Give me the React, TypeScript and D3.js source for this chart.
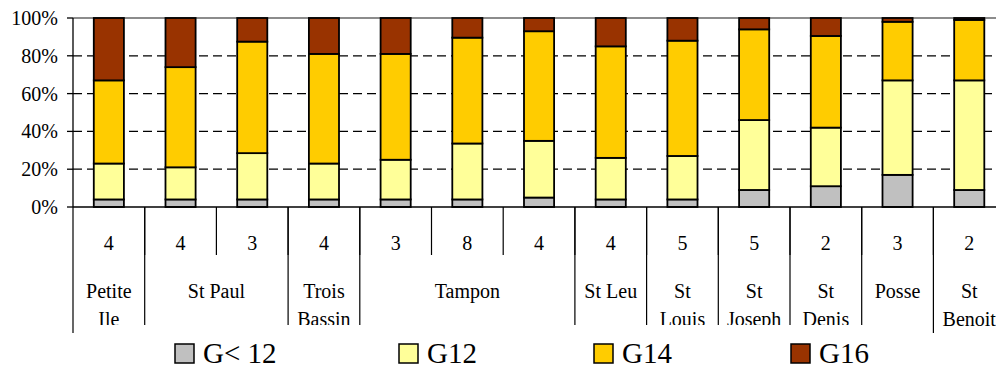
import React from "react";
import * as d3 from "d3";

const counts = ["4", "4", "3", "4", "3", "8", "4", "4", "5", "5", "2", "3", "2"];
const groupNames = [["Petite", "Ile"], ["St Paul"], ["Trois", "Bassin"], ["Tampon"], ["St Leu"], ["St", "Louis"], ["St", "Joseph"], ["St", "Denis"], ["Posse"], ["St", "Benoit"]];
const groupSpans = [1, 2, 1, 3, 1, 1, 1, 1, 1, 1];
const seriesNames = ["G< 12", "G12", "G14", "G16"];
const seriesColors = ["#C0C0C0", "#FFFF99", "#FFCC00", "#993300"];
const gLt12 = [4, 4, 4, 4, 4, 4, 5, 4, 4, 9, 11, 17, 9];
const g12 = [19, 17, 24.5, 19, 21, 29.6, 30, 22, 23, 37, 31, 50, 58];
const g14 = [44, 53, 59, 58, 56, 56, 58, 59, 61, 48, 48.5, 31, 32];
const g16 = [33, 26, 12.5, 19, 19, 10.4, 7, 15, 12, 6, 9.5, 2, 1];
const yTicks = [0, 20, 40, 60, 80, 100];

const W = 996, H = 367;
const left = 73, band = 71.7;
const right = left + band * counts.length;
const top = 18, bottom = 207;
const legendX = [175, 399, 594, 791];

export default function App() {
  const x = d3.scaleBand().domain(d3.range(counts.length).map(String)).range([left, right]).padding(0);
  const y = d3.scaleLinear().domain([0, 100]).range([bottom, top]);
  const bw = x.bandwidth() * 0.42;
  const rows = counts.map((_, i) => ({ a: gLt12[i], b: g12[i], c: g14[i], d: g16[i] }));
  const stack = d3.stack().keys(["a", "b", "c", "d"])(rows as any);
  const xs = (i: number) => x(String(i)) as number;

  let acc = 0;
  const groups = groupSpans.map((s, gi) => {
    const start = acc;
    acc += s;
    return { gi, start, end: acc, names: groupNames[gi] };
  });
  const lastStart = groups[groups.length - 1].start;

  return (
    <svg width={W} height={H} fontFamily="Times New Roman" style={{ position: "absolute", left: 0, top: 0, background: "#fff" }}>
      <defs>
        {groups.map((g) => {
          const x0 = xs(g.start);
          const x1 = g.end < counts.length ? xs(g.end) : right;
          const yb = g.start === lastStart ? 333 : 325;
          return (
            <clipPath id={`gc${g.gi}`} key={g.gi}>
              <rect x={x0} y={bottom} width={x1 - x0} height={yb - bottom} />
            </clipPath>
          );
        })}
      </defs>
      {yTicks.filter((t) => t > 0 && t < 100).map((t) => (
        <line key={t} x1={left} x2={right} y1={y(t)} y2={y(t)} stroke="#000" strokeWidth={1.3} strokeDasharray="9,5" />
      ))}
      <line x1={left} x2={right} y1={y(100)} y2={y(100)} stroke="#8c8c8c" strokeWidth={2} />
      {yTicks.map((t) => (
        <line key={"t" + t} x1={67} x2={left} y1={y(t)} y2={y(t)} stroke="#000" strokeWidth={1.3} />
      ))}
      {yTicks.map((t) => (
        <text key={"l" + t} x={58} y={y(t) + 7} textAnchor="end" fontSize={20} fontFamily="Times New Roman">{t}%</text>
      ))}
      {stack.map((s, si) =>
        s.map((dd, i) => (
          <rect key={si + "-" + i} x={xs(i) + (x.bandwidth() - bw) / 2} y={y(dd[1])} width={bw} height={y(dd[0]) - y(dd[1])}
            fill={seriesColors[si]} stroke="#000" strokeWidth={1.8} />
        ))
      )}
      <line x1={left} x2={left} y1={top} y2={bottom} stroke="#000" strokeWidth={1.3} />
      <line x1={left} x2={right} y1={bottom} y2={bottom} stroke="#000" strokeWidth={1.3} />
      {counts.map((_, i) => i > 0 ? (
        <line key={"s" + i} x1={xs(i)} x2={xs(i)} y1={bottom} y2={255} stroke="#000" strokeWidth={1.2} />
      ) : null)}
      {counts.map((c, i) => (
        <text key={"c" + i} x={xs(i) + x.bandwidth() / 2} y={249.5} textAnchor="middle" fontSize={20} fontFamily="Times New Roman">{c}</text>
      ))}
      {groups.map((g) => {
        const xx = xs(g.start);
        const yb = g.start === 0 || g.start === lastStart ? 333 : 325;
        return <line key={"g" + g.gi} x1={xx} x2={xx} y1={bottom} y2={yb} stroke="#000" strokeWidth={1.2} />;
      })}
      {groups.map((g) => {
        const cx = (xs(g.start) + xs(g.end - 1) + x.bandwidth()) / 2;
        return (
          <g key={"n" + g.gi} clipPath={`url(#gc${g.gi})`}>
            {g.names.map((n, li) => (
              <text key={li} x={cx} y={298 + li * 28} textAnchor="middle" fontSize={20} fontFamily="Times New Roman">{n}</text>
            ))}
          </g>
        );
      })}
      {seriesNames.map((n, i) => (
        <rect key={"r" + n} x={legendX[i]} y={344} width={19} height={19} fill={seriesColors[i]} stroke="#000" strokeWidth={1.5} />
      ))}
      {seriesNames.map((n, i) => (
        <text key={"k" + n} x={legendX[i] + 28} y={363} fontSize={29} fontFamily="Times New Roman">{n}</text>
      ))}
    </svg>
  );
}
